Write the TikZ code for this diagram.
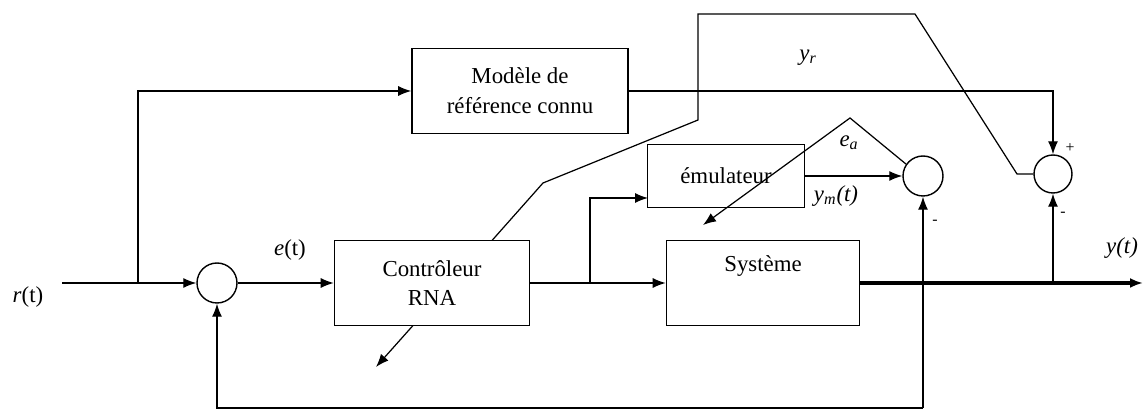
\documentclass[tikz,border=0pt]{standalone}
\usepackage{fontspec}
\setmainfont{Liberation Serif}
\usetikzlibrary{arrows, arrows.meta}
\tikzstyle{block} = [rectangle, draw=black, line width=0.9pt, align=center, inner sep=0pt, font=\fontsize{13}{17}\selectfont]
\tikzstyle{sum} = [circle, draw=black, line width=0.8pt, minimum size=0.8cm, inner sep=0pt]
\tikzstyle{arrow} = [line width=0.7pt,->,>={Latex[length=2.6mm,width=2mm]}]
\tikzstyle{lbl} = [inner sep=1pt, font=\fontsize{13}{15}\selectfont]
\tikzstyle{sign} = [inner sep=0pt, font=\fontsize{9}{10}\selectfont]

\begin{document}
\begin{tikzpicture}[x=0.02cm, y=-0.02cm]
        \useasboundingbox (0,0) rectangle (1144,411);
        % blocs
        \node (model) [block, minimum width=4.32cm, minimum height=1.7cm] at (520,91) {Modèle de\\référence connu};
        \node (ctrl) [block, minimum width=3.9cm, minimum height=1.7cm] at (432,283) {Contrôleur\\RNA};
        \node (sys) [block, minimum width=3.86cm, minimum height=1.7cm] at (763,283) {Système\\\strut};
        \node (emul) [block, minimum width=3.14cm, minimum height=1.26cm] at (726,176) {émulateur};
        \node (sum1) [sum] at (217,283) {};
        \node (sum3) [sum] at (923,176) {};
        \node (sum2) [sum, minimum size=0.76cm] at (1053,174) {};

        \coordinate (in) at (62,283);
        \coordinate (br1) at (138,283);
        \coordinate (br2) at (590,283);
        \coordinate (eIn) at (648,198);
        \coordinate (br3) at (923,283);
        \coordinate (br4) at (1053,283);
        \coordinate (out) at (1143,283);
        \coordinate (fb) at (923,408);
        \coordinate (k1) at (1017,174);
        \coordinate (k2) at (915,14);
        \coordinate (k3) at (698,14);
        \coordinate (k4) at (698,120);
        \coordinate (k5) at (543,183);
        \coordinate (k6) at (492,240.5);
        \coordinate (p1) at (850,118);
        \coordinate (a1) at (703,225);
        \coordinate (c1) at (413,325.5);
        \coordinate (a2) at (376,367);

        % textes
        \node (rt) [lbl] at (28,297) {\textit{r}(t)};
        \node (et) [lbl] at (290,250) {\textit{e}(t)};
        \node (yr) [lbl] at (808,58) {\textit{y}\textsubscript{\textit{r}}};
        \node (ea) [lbl] at (849,143) {\textit{e}\textsubscript{\textit{a}}};
        \node (ym) [lbl] at (836,196) {\textit{y}\textsubscript{\textit{m}}\textit{(t)}};
        \node (yt) [lbl] at (1122,248) {\textit{y(t)}};
        \node (s2p) [sign] at (1070,148) {+};
        \node (s2m) [sign] at (1063,214) {-};
        \node (s3m) [sign] at (935,222) {-};

        \draw[arrow] (in) -- (sum1);
        \draw[arrow] (br1) |- (model);
        \draw[arrow] (sum1) -- (ctrl);
        \draw[arrow] (ctrl) -- (sys);
        \draw[arrow] (br2) |- (eIn);
        \draw[arrow] (emul) -- (sum3);
        \draw[arrow, line width=2.8pt] (sys) -- (out);
        \draw[arrow] (fb) -- (sum3);
        \draw[arrow] (fb) -| (sum1);
        \draw[arrow] (model) -| (sum2);
        \draw[arrow] (br4) -- (sum2);
        \draw[line width=0.7pt] (sum2) -- (k1) -- (k2) -- (k3) -- (k4) -- (k5) -- (k6);
        \draw[arrow] (sum3.145) -- (p1) -- (a1);
        \draw[arrow] (c1) -- (a2);
    \end{tikzpicture}
\end{document}
